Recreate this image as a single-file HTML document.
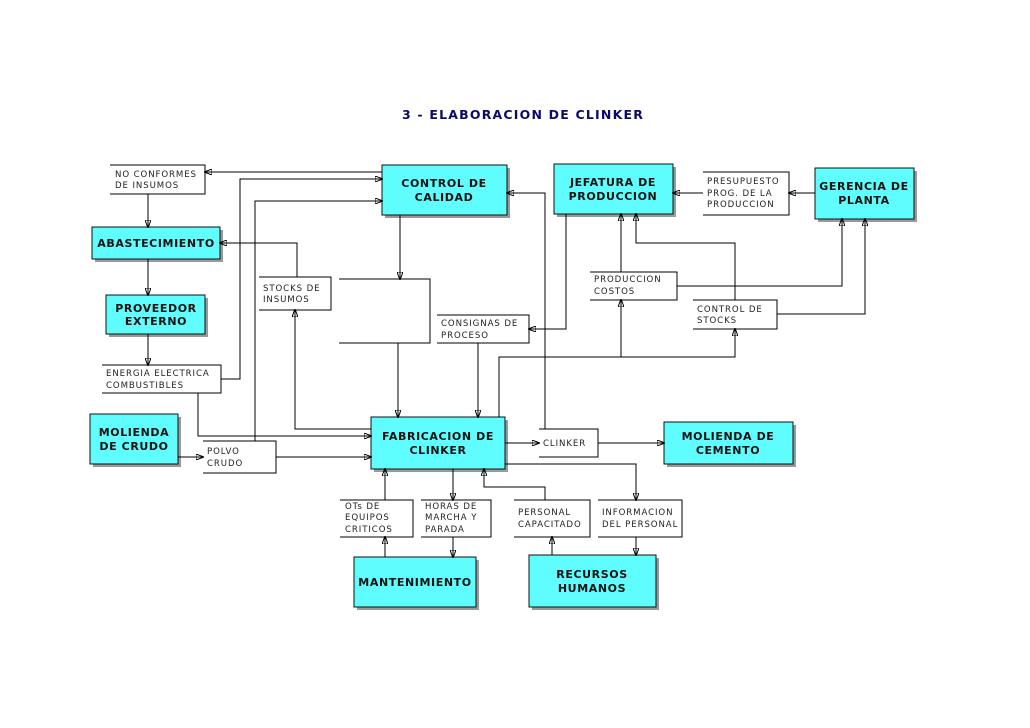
<!DOCTYPE html>
<html><head><meta charset="utf-8"><style>
html,body{margin:0;padding:0;background:#fff;}
svg{display:block;}
.b{font-family:"DejaVu Sans","Liberation Sans",sans-serif;font-weight:bold;font-size:11px;letter-spacing:0.6px;fill:#111;text-anchor:middle;}
.l{font-family:"DejaVu Sans","Liberation Sans",sans-serif;font-size:8.6px;letter-spacing:0.9px;fill:#222;}
line,polyline,path{stroke:#000;stroke-width:1;fill:none;}
</style></head><body>
<svg width="1030" height="728" viewBox="0 0 1030 728" xmlns="http://www.w3.org/2000/svg">
<defs><marker id="a" markerWidth="8" markerHeight="6" refX="7" refY="3" orient="auto" markerUnits="userSpaceOnUse"><path d="M0,0 L8,3 L0,6 z" fill="#000" stroke="none"/></marker></defs>
<text x="523" y="119" style="font-family:'DejaVu Sans','Liberation Sans',sans-serif;font-weight:bold;font-size:12.5px;letter-spacing:1.2px;fill:#0a0a6a;text-anchor:middle">3 - ELABORACION DE CLINKER</text>

<g fill="#999" stroke="none">
<rect x="385" y="168" width="125" height="50"/><rect x="557" y="167" width="119" height="50"/><rect x="818" y="171" width="99" height="51"/>
<rect x="95" y="230" width="128" height="32"/><rect x="109" y="298" width="99" height="39"/><rect x="93" y="417" width="88" height="50"/>
<rect x="374" y="420" width="134" height="52"/><rect x="667" y="425" width="129" height="42"/><rect x="357" y="560" width="122" height="50"/><rect x="532" y="558" width="127" height="52"/>
</g>
<g fill="#5ffdfd" stroke="#111" stroke-width="1">
<rect x="382" y="165" width="125" height="50"/><rect x="554" y="164" width="119" height="50"/><rect x="815" y="168" width="99" height="51"/>
<rect x="92" y="227" width="128" height="32"/><rect x="106" y="295" width="99" height="39"/><rect x="90" y="414" width="88" height="50"/>
<rect x="371" y="417" width="134" height="52"/><rect x="664" y="422" width="129" height="42"/><rect x="354" y="557" width="122" height="50"/><rect x="529" y="555" width="127" height="52"/>
</g>
<text class="b" x="444" y="187">CONTROL DE</text><text class="b" x="444" y="201">CALIDAD</text>
<text class="b" x="613" y="186">JEFATURA DE</text><text class="b" x="613" y="200">PRODUCCION</text>
<text class="b" x="864" y="190">GERENCIA DE</text><text class="b" x="864" y="204">PLANTA</text>
<text class="b" x="156" y="247">ABASTECIMIENTO</text>
<text class="b" x="156" y="312">PROVEEDOR</text><text class="b" x="156" y="325">EXTERNO</text>
<text class="b" x="134" y="436">MOLIENDA</text><text class="b" x="134" y="450">DE CRUDO</text>
<text class="b" x="438" y="440">FABRICACION DE</text><text class="b" x="438" y="454">CLINKER</text>
<text class="b" x="728" y="440">MOLIENDA DE</text><text class="b" x="728" y="454">CEMENTO</text>
<text class="b" x="415" y="586">MANTENIMIENTO</text>
<text class="b" x="592" y="578">RECURSOS</text><text class="b" x="592" y="592">HUMANOS</text>

<g>
<polyline points="110,165 205,165 205,194 110,194"/>
<polyline points="259,277 331,277 331,310 259,310"/>
<polyline points="339,279 430,279 430,343 339,343"/>
<polyline points="437,315 529,315 529,343 437,343"/>
<polyline points="590,272 677,272 677,300 590,300"/>
<polyline points="693,300 777,300 777,329 693,329"/>
<polyline points="703,172 789,172 789,215 703,215"/>
<polyline points="102,365 221,365 221,393 102,393"/>
<polyline points="203,441 276,441 276,473 203,473"/>
<polyline points="539,429 598,429 598,457 539,457"/>
<polyline points="340,500 413,500 413,537 340,537"/>
<polyline points="421,500 491,500 491,537 421,537"/>
<polyline points="514,500 590,500 590,537 514,537"/>
<polyline points="598,500 682,500 682,537 598,537"/>
</g>
<text class="l" x="115" y="177">NO CONFORMES</text><text class="l" x="115" y="188">DE INSUMOS</text>
<text class="l" x="263" y="291">STOCKS DE</text><text class="l" x="263" y="302">INSUMOS</text>
<text class="l" x="441" y="326">CONSIGNAS DE</text><text class="l" x="441" y="338">PROCESO</text>
<text class="l" x="594" y="282">PRODUCCION</text><text class="l" x="594" y="294">COSTOS</text>
<text class="l" x="697" y="312">CONTROL DE</text><text class="l" x="697" y="323">STOCKS</text>
<text class="l" x="707" y="184">PRESUPUESTO</text><text class="l" x="707" y="196">PROG. DE LA</text><text class="l" x="707" y="207">PRODUCCION</text>
<text class="l" x="106" y="376">ENERGIA ELECTRICA</text><text class="l" x="106" y="388">COMBUSTIBLES</text>
<text class="l" x="207" y="454">POLVO</text><text class="l" x="207" y="466">CRUDO</text>
<text class="l" x="543" y="446">CLINKER</text>
<text class="l" x="345" y="509">OTs DE</text><text class="l" x="345" y="520">EQUIPOS</text><text class="l" x="345" y="532">CRITICOS</text>
<text class="l" x="425" y="509">HORAS DE</text><text class="l" x="425" y="520">MARCHA Y</text><text class="l" x="425" y="532">PARADA</text>
<text class="l" x="518" y="515">PERSONAL</text><text class="l" x="518" y="527">CAPACITADO</text>
<text class="l" x="602" y="515">INFORMACION</text><text class="l" x="602" y="527">DEL PERSONAL</text>

<g marker-end="url(#a)">
<polyline points="382,172 205,172"/>
<polyline points="221,379 240,379 240,179 382,179"/>
<polyline points="255,441 255,201 382,201"/>
<polyline points="148,194 148,227"/>
<polyline points="148,259 148,295"/>
<polyline points="148,334 148,365"/>
<polyline points="297,277 297,243 220,243"/>
<polyline points="400,215 400,279"/>
<polyline points="398,343 398,417"/>
<polyline points="371,429 295,429 295,310"/>
<polyline points="198,393 198,436 371,436"/>
<polyline points="178,457 203,457"/>
<polyline points="276,457 371,457"/>
<polyline points="478,343 478,417"/>
<polyline points="566,214 566,329 529,329"/>
<polyline points="545,429 545,193 507,193"/>
<polyline points="499,417 499,357 735,357 735,329"/>
<polyline points="621,357 621,300"/>
<polyline points="621,272 621,214"/>
<polyline points="735,300 735,243 636,243 636,214"/>
<polyline points="677,286 842,286 842,219"/>
<polyline points="777,314 865,314 865,219"/>
<polyline points="815,193 789,193"/>
<polyline points="703,193 673,193"/>
<polyline points="505,443 539,443"/>
<polyline points="598,443 664,443"/>
<polyline points="505,464 636,464 636,500"/>
<polyline points="385,500 385,469"/>
<polyline points="385,557 385,537"/>
<polyline points="453,469 453,500"/>
<polyline points="453,537 453,557"/>
<polyline points="545,500 545,487 484,487 484,469"/>
<polyline points="552,555 552,537"/>
<polyline points="636,537 636,555"/>
</g>
</svg>
</body></html>
